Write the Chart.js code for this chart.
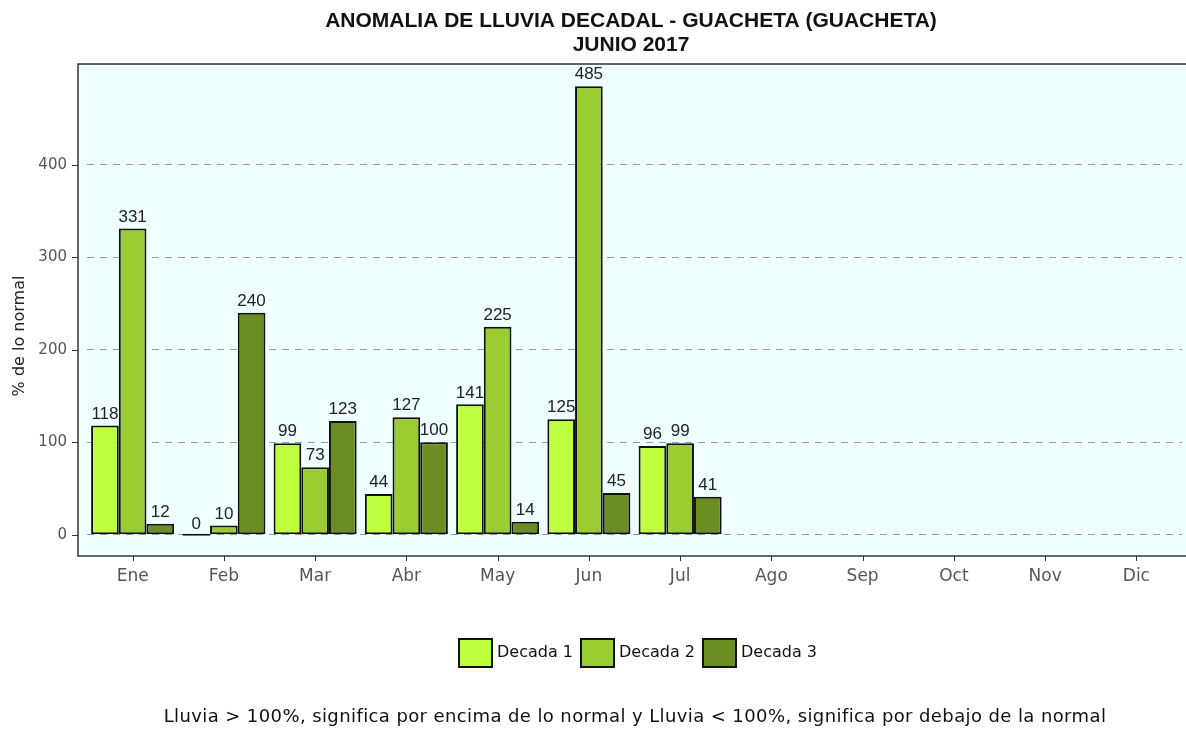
<!DOCTYPE html>
<html>
<head>
<meta charset="utf-8">
<script src="https://cdn.jsdelivr.net/npm/chart.js@4.4.1/dist/chart.umd.min.js"></script>
<style>
  html, body { margin: 0; padding: 0; background: #fff; }
  #wrap { width: 1186px; height: 729px; }
</style>
</head>
<body>
<div id="wrap"><canvas id="lluvia" width="1186" height="729"></canvas></div>
<script>
// meses y valores (% de lo normal) por decada
var meses = ["Ene", "Feb", "Mar", "Abr", "May", "Jun", "Jul", "Ago", "Sep", "Oct", "Nov", "Dic"];
var decada1 = [118, 0, 99, 44, 141, 125, 96, null, null, null, null, null];
var decada2 = [331, 10, 73, 127, 225, 485, 99, null, null, null, null, null];
var decada3 = [12, 240, 123, 100, 14, 45, 41, null, null, null, null, null];
var yTicks = [0, 100, 200, 300, 400];

var titulo = ["ANOMALIA DE LLUVIA DECADAL - GUACHETA (GUACHETA)", "JUNIO 2017"];
var ejeY = "% de lo normal";
var nota = "Lluvia > 100%, significa por encima de lo normal y Lluvia < 100%, significa por debajo de la normal";

// fondo, marco, etiquetas, titulo, leyenda y nota
var extras = {
    id: "extras",
    beforeDraw: function (chart) {
        var ctx = chart.ctx, a = chart.chartArea;
        ctx.save();
        ctx.fillStyle = "#f0ffff";
        ctx.fillRect(78, a.top, 1186 - 78, a.bottom - a.top);
        ctx.restore();
    },
    afterDraw: function (chart) {
        var ctx = chart.ctx, a = chart.chartArea;
        var ys = chart.scales.y, xs = chart.scales.x;
        ctx.save();
        // marco
        ctx.strokeStyle = "#333";
        ctx.lineWidth = 1.5;
        ctx.beginPath();
        ctx.moveTo(1186, a.top); ctx.lineTo(78, a.top); ctx.lineTo(78, a.bottom); ctx.lineTo(1186, a.bottom);
        ctx.stroke();
        ctx.lineWidth = 1;
        ctx.beginPath();
        yTicks.forEach(function (v) {
            var y = Math.round(ys.getPixelForValue(v)) + 0.5;
            ctx.moveTo(72, y); ctx.lineTo(78, y);
        });
        meses.forEach(function (m, i) {
            var x = Math.round(xs.getPixelForValue(i)) + 0.5;
            ctx.moveTo(x, a.bottom); ctx.lineTo(x, a.bottom + 5);
        });
        ctx.stroke();

        // valores sobre las barras
        ctx.font = "17px 'Liberation Sans', Arial, sans-serif";
        ctx.fillStyle = "#222";
        ctx.textAlign = "center";
        ctx.textBaseline = "bottom";
        chart.data.datasets.forEach(function (ds, di) {
            chart.getDatasetMeta(di).data.forEach(function (bar, i) {
                if (ds.data[i] === null) return;
                ctx.fillText(String(ds.data[i]), bar.x, bar.y - 3);
            });
        });

        // titulo
        ctx.font = "bold 21px 'Liberation Sans', Arial, sans-serif";
        ctx.fillStyle = "#111";
        ctx.textBaseline = "middle";
        ctx.fillText(titulo[0], 631, 21);
        ctx.fillText(titulo[1], 631, 45);

        // titulo del eje y
        ctx.save();
        ctx.translate(20, 336);
        ctx.rotate(-Math.PI / 2);
        ctx.font = "16px 'DejaVu Sans', sans-serif";
        ctx.fillStyle = "#222";
        ctx.fillText(ejeY, 0, 0);
        ctx.restore();

        // leyenda
        ctx.font = "16px 'DejaVu Sans', sans-serif";
        var items = chart.data.datasets.map(function (ds) {
            return { label: ds.label, color: ds.backgroundColor, w: ctx.measureText(ds.label).width };
        });
        var boxW = 33, boxH = 28, gap = 5, sep = 8;
        var total = 0;
        items.forEach(function (it) { total += boxW + gap + it.w + sep; });
        total -= sep;
        var x = 638 - total / 2, yc = 653;
        ctx.textAlign = "left";
        items.forEach(function (it) {
            ctx.fillStyle = it.color;
            ctx.fillRect(x, yc - boxH / 2, boxW, boxH);
            ctx.strokeStyle = "#111";
            ctx.lineWidth = 2;
            ctx.strokeRect(x, yc - boxH / 2, boxW, boxH);
            ctx.fillStyle = "#111";
            ctx.fillText(it.label, x + boxW + gap, yc);
            x += boxW + gap + it.w + sep;
        });

        // nota
        ctx.font = "18px 'DejaVu Sans', sans-serif";
        ctx.letterSpacing = "0.4px";
        ctx.textAlign = "center";
        ctx.fillStyle = "#111";
        ctx.fillText(nota, 635, 717);
        ctx.restore();
    }
};

new Chart(document.getElementById("lluvia"), {
    "type": "bar",
    "data": {
        "labels": meses,
        "datasets": [{
            "label": "Decada 1",
            "data": decada1,
            "backgroundColor": "#c0ff3e",
            "borderSkipped": false,
            "minBarLength": 2
        }, {
            "label": "Decada 2",
            "data": decada2,
            "backgroundColor": "#9acd32",
            "borderSkipped": false
        }, {
            "label": "Decada 3",
            "data": decada3,
            "backgroundColor": "#6b8e23",
            "borderSkipped": false
        }]
    },
    "options": {
        responsive: false,
        animation: false,
        layout: { padding: { top: 64, right: 4, bottom: 133, left: 0 } },
        elements: { bar: { borderSkipped: false } },
        datasets: {
            bar: {
                borderColor: "#111",
                borderWidth: 2,
                categoryPercentage: 0.91,
                barPercentage: 1
            }
        },
        plugins: {
            legend: { display: false },
            title: { display: false },
            tooltip: { enabled: false }
        },
        scales: {
            x: {
                grid: { display: false, drawTicks: false },
                border: { display: false },
                ticks: {
                    color: "#555",
                    padding: 10,
                    font: { size: 17, family: "'DejaVu Sans', sans-serif" }
                },
                afterFit: function (s) { s.height = 40; }
            },
            y: {
                min: -23,
                max: 509,
                grid: {
                    color: "#9a9a9a",
                    drawTicks: false
                },
                border: { display: false, dash: [7, 6] },
                ticks: {
                    stepSize: 100,
                    color: "#555",
                    padding: 20,
                    font: { size: 15, family: "'DejaVu Sans', sans-serif" }
                },
                afterBuildTicks: function (s) {
                    s.ticks = yTicks.map(function (v) { return { value: v }; });
                },
                afterFit: function (s) { s.width = 87; }
            }
        }
    },
    plugins: [extras]
});
</script>
</body>
</html>
